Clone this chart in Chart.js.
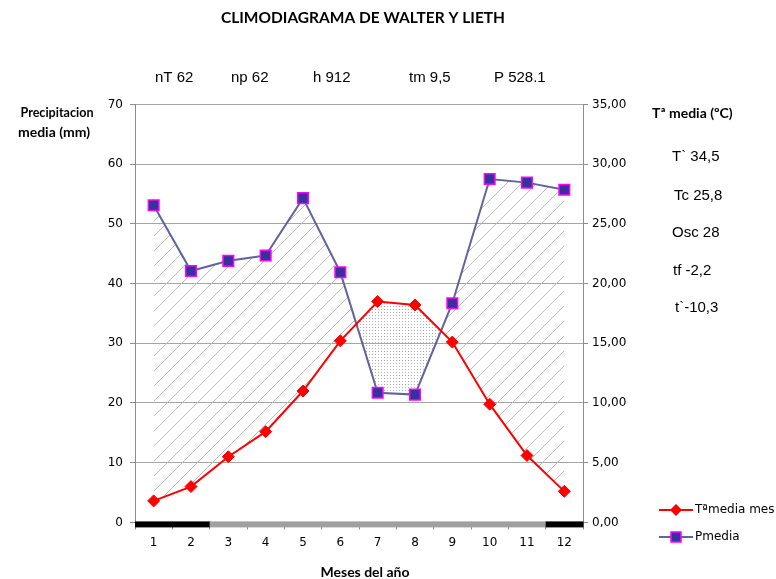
<!DOCTYPE html>
<html>
<head>
<meta charset="utf-8">
<script src="https://cdn.jsdelivr.net/npm/chart.js@4/dist/chart.umd.min.js"></script>
<style>
  html, body { margin: 0; padding: 0; background: #fff; }
  #wrap { width: 776px; height: 579px; }
</style>
</head>
<body>
<div id="wrap"><canvas id="climo" width="776" height="579"></canvas></div>
<script>
// datos del climodiagrama
const months = ['1', '2', '3', '4', '5', '6', '7', '8', '9', '10', '11', '12'];
const tempMedia = [1.8, 3.0, 5.5, 7.6, 11.0, 15.2, 18.5, 18.2, 15.1, 9.9, 5.6, 2.6];
const precipMedia = [53.1, 42.1, 43.8, 44.7, 54.3, 41.9, 21.7, 21.4, 36.7, 57.5, 56.9, 55.7];
// heladas: 'segura' (negro) / 'probable' (gris)
const heladas = ['segura', 'segura', 'probable', 'probable', 'probable', 'probable',
  'probable', 'probable', 'probable', 'probable', 'probable', 'segura'];
const headerStats = ['nT 62', 'np 62', 'h 912', 'tm 9,5', 'P 528.1'];
const tempStats = ['T` 34,5', 'Tc 25,8', 'Osc 28', 'tf -2,2', 't`-10,3'];

const makePattern = (size, drawFn) => {
  const c = document.createElement('canvas');
  c.width = size;
  c.height = size;
  const g = c.getContext('2d');
  drawFn(g, size);
  return document.getElementById('climo').getContext('2d').createPattern(c, 'repeat');
};

const hatch = makePattern(15, (g, s) => {
  g.strokeStyle = '#bdbdbd';
  g.lineWidth = 1;
  g.beginPath();
  g.moveTo(-1, s + 1);
  g.lineTo(s + 1, -1);
  g.moveTo(-1 - s, s + 1);
  g.lineTo(1, -1);
  g.moveTo(s - 1, 2 * s + 1);
  g.lineTo(2 * s + 1, s - 1);
  g.stroke();
});

const dots = makePattern(3, (g) => {
  g.fillStyle = '#b0b0b0';
  g.fillRect(0, 0, 1, 1);
});

const tickFont = { family: 'DejaVu Sans', size: 12 };
const axisGray = '#8c8c8c';

const decor = {
  id: 'decor',
  beforeDatasetsDraw(chart) {
    const { ctx, chartArea, scales } = chart;
    const x = scales.x;
    const step = (chartArea.right - chartArea.left) / months.length;
    ctx.save();
    heladas.forEach((h, i) => {
      const cx = x.getPixelForValue(i);
      ctx.fillStyle = h === 'segura' ? '#000000' : '#a0a0a0';
      ctx.fillRect(cx - step / 2, chartArea.bottom - 1, step + 0.5, 6);
    });
    ctx.restore();
  },
  afterDraw(chart) {
    const { ctx } = chart;
    ctx.save();
    ctx.fillStyle = '#000';
    ctx.textBaseline = 'middle';

    ctx.textAlign = 'center';
    ctx.font = 'bold 15.5px Lato';
    ctx.fillText('CLIMODIAGRAMA DE WALTER Y LIETH', 363, 18, 302);

    ctx.font = 'bold 14px Lato';
    ctx.fillText('Precipitacion', 57, 112, 73);
    ctx.fillText('media (mm)', 54, 132, 77);
    ctx.fillText('Meses del año', 365, 572);
    ctx.textAlign = 'left';
    ctx.fillText('Tª media (ºC)', 652, 113, 84);

    ctx.font = '15px "Liberation Sans"';
    const headX = [155, 231, 313, 409, 494];
    headerStats.forEach((t, i) => ctx.fillText(t, headX[i], 78));
    const statX = [672, 674, 672, 673, 675];
    const statY = [157, 196, 233, 271, 308];
    tempStats.forEach((t, i) => ctx.fillText(t, statX[i], statY[i]));

    // leyenda
    ctx.font = '12px "DejaVu Sans"';
    chart.data.datasets.forEach((ds, i) => {
      const ly = 510 + i * 27;
      ctx.strokeStyle = ds.borderColor;
      ctx.lineWidth = 2;
      ctx.beginPath();
      ctx.moveTo(659, ly);
      ctx.lineTo(693, ly);
      ctx.stroke();
      ctx.fillStyle = ds.pointBackgroundColor;
      ctx.strokeStyle = ds.pointBorderColor;
      ctx.lineWidth = ds.pointBorderWidth;
      if (ds.pointStyle === 'rect') {
        ctx.fillRect(671, ly - 5, 10, 10);
        ctx.strokeRect(671, ly - 5, 10, 10);
      } else {
        ctx.beginPath();
        ctx.moveTo(676, ly - 6);
        ctx.lineTo(682, ly);
        ctx.lineTo(676, ly + 6);
        ctx.lineTo(670, ly);
        ctx.closePath();
        ctx.fill();
      }
      ctx.fillStyle = '#000';
      ctx.fillText(ds.label, 695, ly);
    });
    ctx.restore();
  },
};

new Chart(document.getElementById('climo'), {
  type: 'line',
  data: {
    labels: months,
    datasets: [
      {
        label: 'Tªmedia mes',
        data: tempMedia,
        yAxisID: 'y1',
        borderColor: '#ff0000',
        borderWidth: 2,
        pointStyle: 'rectRot',
        pointRadius: 6,
        pointBackgroundColor: '#ff0000',
        pointBorderColor: '#ff0000',
        pointBorderWidth: 1,
        tension: 0,
        fill: false,
      },
      {
        label: 'Pmedia',
        data: precipMedia,
        yAxisID: 'y',
        borderColor: '#62629e',
        borderWidth: 2,
        pointStyle: 'rect',
        pointRadius: 7.5,
        pointBackgroundColor: '#333399',
        pointBorderColor: '#ff00ff',
        pointBorderWidth: 1.5,
        tension: 0,
        fill: { target: 0, above: hatch, below: dots },
      },
    ],
  },
  options: {
    responsive: false,
    animation: false,
    layout: { padding: { top: 104.4, left: 0, right: 0, bottom: 0 } },
    plugins: {
      legend: { display: false },
      title: { display: false },
      tooltip: { enabled: false },
    },
    scales: {
      x: {
        offset: true,
        grid: {
          offset: true,
          drawOnChartArea: false,
          color: axisGray,
          tickLength: 7,
        },
        border: { color: axisGray },
        ticks: { font: tickFont, color: '#000', padding: 6 },
        afterFit: (s) => { s.height = 56.6; },
      },
      y: {
        position: 'left',
        min: 0,
        max: 70,
        ticks: { stepSize: 10, font: tickFont, color: '#000', padding: 7 },
        grid: { color: '#a6a6a6', tickLength: 5, tickColor: axisGray },
        border: { color: axisGray },
        afterFit: (s) => { s.width = 135; },
      },
      y1: {
        position: 'right',
        min: 0,
        max: 35,
        ticks: {
          stepSize: 5,
          font: tickFont,
          color: '#000',
          padding: 4,
          callback: (v) => v.toFixed(2).replace('.', ','),
        },
        grid: { drawOnChartArea: false, color: axisGray, tickLength: 5 },
        border: { color: axisGray },
        afterFit: (s) => { s.width = 193; },
      },
    },
  },
  plugins: [decor],
});
</script>
</body>
</html>
